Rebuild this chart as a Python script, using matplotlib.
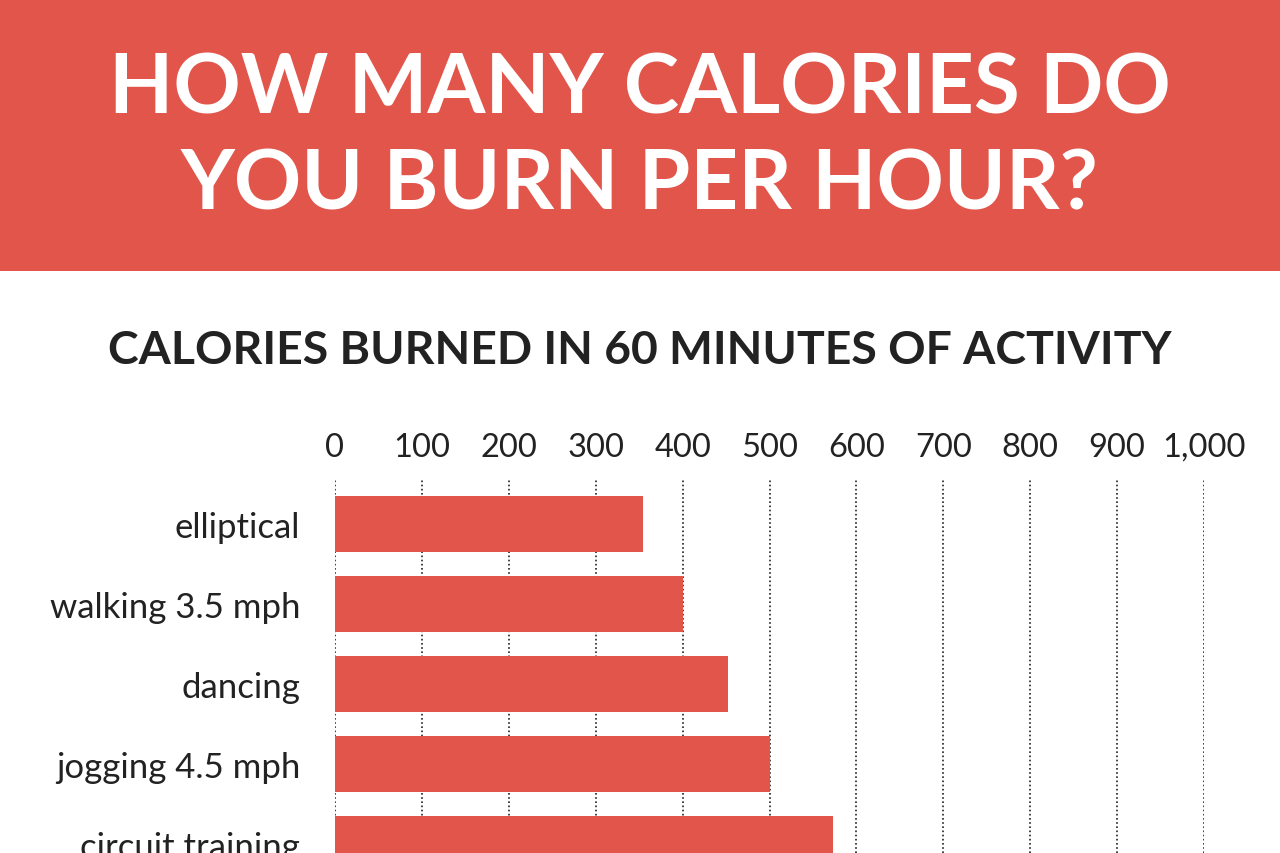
import matplotlib
matplotlib.use("Agg")
import matplotlib.pyplot as plt
from matplotlib.patches import Rectangle

# data
activities = ["elliptical", "walking 3.5 mph", "dancing", "jogging 4.5 mph", "circuit training"]
calories = [355, 400, 452, 500, 573]
ticks = [0, 100, 200, 300, 400, 500, 600, 700, 800, 900, 1000]
tick_labels = ["0", "100", "200", "300", "400", "500", "600", "700", "800", "900", "1,000"]

red = "#E2554A"
dark = "#222222"
W, H = 1280, 854

fig = plt.figure(figsize=(12.8, 8.54), dpi=100)
fig.patch.set_facecolor("white")

# red banner
fig.patches.append(Rectangle((0, 1 - 272 / H), 1, 272 / H, transform=fig.transFigure,
                             facecolor=red, edgecolor="none", zorder=0))
fig.text(0.5, 1 - 90 / H, "HOW MANY CALORIES DO", ha="center", va="center",
         color="white", fontsize=60, fontweight="bold", family="Lato")
fig.text(0.5, 1 - 186 / H, "YOU BURN PER HOUR?", ha="center", va="center",
         color="white", fontsize=60, fontweight="bold", family="Lato")
fig.text(0.5, 1 - 351 / H, "CALORIES BURNED IN 60 MINUTES OF ACTIVITY", ha="center",
         va="center", color=dark, fontsize=33.4, fontweight="bold", family="Lato")

# axes in pixel terms
x0, x1 = 335, 1204
top, bottom = 480, 854
ax = fig.add_axes([x0 / W, 1 - bottom / H, (x1 - x0) / W, (bottom - top) / H])
ax.set_facecolor("none")

ypos = list(range(len(activities)))
ax.barh(ypos, calories, height=0.7, color=red, zorder=2)
ax.set_xlim(0, 1000)
ax.set_ylim(4.1125, -0.5625)

ax.set_xticks(ticks)
ax.set_xticklabels(tick_labels, family="Lato", fontsize=23.5, color=dark)
ax.xaxis.tick_top()
ax.tick_params(axis="x", length=0, pad=12.5)
ax.set_yticks(ypos)
ax.set_yticklabels(activities, family="Lato", fontsize=25, color=dark)
ax.tick_params(axis="y", length=0, pad=25)

for t in ticks:
    ax.axvline(t, color=dark, linestyle=(0, (1, 1.5)), linewidth=1.2, zorder=1)

for s in ax.spines.values():
    s.set_visible(False)

fig.savefig("out.png", dpi=100)
